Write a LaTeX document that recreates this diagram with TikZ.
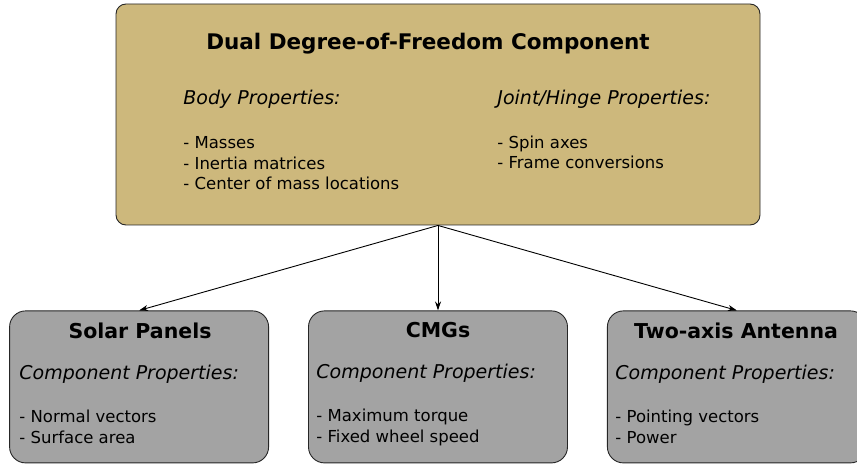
\documentclass[tikz,border=0pt]{standalone}
\usepackage{fontspec}
\setmainfont{DejaVu Sans}
\usetikzlibrary{positioning,arrows.meta}
\definecolor{boxtan}{HTML}{CDB87C}
\definecolor{boxgrey}{HTML}{A3A3A3}

\begin{document}
\begin{tikzpicture}[x=1pt,y=-1pt,->,>={Stealth[length=9pt,width=6pt]},line width=0.9pt,
  top box/.style={draw=black!85,fill=boxtan,rounded corners=10pt,minimum width=644pt,minimum height=221pt,inner sep=0pt},
  part box/.style={draw=black!85,fill=boxgrey,rounded corners=16pt,minimum width=259pt,minimum height=152pt,inner sep=0pt},
  big title/.style={font=\fontsize{21.5}{25}\selectfont\bfseries,inner sep=0pt,anchor=base},
  part title/.style={font=\fontsize{20.5}{24}\selectfont\bfseries,inner sep=0pt,anchor=base},
  head text/.style={font=\fontsize{19}{23}\selectfont\itshape,inner sep=0pt,anchor=base west},
  item text/.style={font=\fontsize{16.5}{20.8}\selectfont,inner sep=0pt,anchor=base west,align=left}]

  \useasboundingbox (0,0) rectangle (857,465);

  % main component
  \node[top box] (top) at (438,114.5) {};
  \node[big title] (toptitle) at (428,50) {Dual Degree-of-Freedom Component};
  \node[head text] (bodyhead) at (183,104.5) {Body Properties:};
  \node[item text] (bodylist) at (183,190) {- Masses\\- Inertia matrices\\- Center of mass locations};
  \node[head text] (jointhead) at (497,104.5) {Joint/Hinge Properties:};
  \node[item text] (jointlist) at (497,169) {- Spin axes\\- Frame conversions};

  % the three parts
  \node[part box] (cmg) [below=85pt of top] {};
  \node[part box] (solar) [left=39pt of cmg] {};
  \node[part box] (antenna) [right=39pt of cmg] {};

  \node[part title] (solartitle) at (140,338) {Solar Panels};
  \node[head text] (solarhead) at (19,379.5) {Component Properties:};
  \node[item text] (solarlist) at (19,443.5) {- Normal vectors\\- Surface area};

  \node[part title] (cmgtitle) at (438,337) {CMGs};
  \node[head text] (cmghead) at (316,378) {Component Properties:};
  \node[item text] (cmglist) at (316,442) {- Maximum torque\\- Fixed wheel speed};

  \node[part title] (antennatitle) at (736,338) {Two-axis Antenna};
  \node[head text] (antennahead) at (615,379.5) {Component Properties:};
  \node[item text] (antennalist) at (615,443.5) {- Pointing vectors\\- Power};

  \path
    (top.south) edge (solar.north)
    (top.south) edge (cmg.north)
    (top.south) edge (antenna.north);
\end{tikzpicture}
\end{document}
